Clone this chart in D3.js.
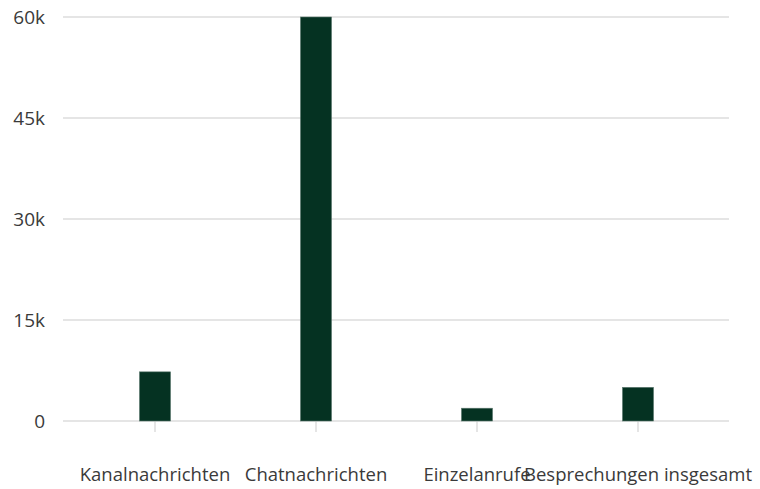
<!DOCTYPE html>
<html>
<head>
<meta charset="utf-8">
<script src="https://cdn.jsdelivr.net/npm/d3@7"></script>
<style>
  html, body { margin: 0; padding: 0; background: #fff; }
  svg { display: block; }
  text { font-family: "Open Sans", "Noto Sans", sans-serif; fill: #3a3a3a; }
</style>
</head>
<body>
<svg id="chart" width="760" height="489"></svg>
<script>
const categories = ["Kanalnachrichten", "Chatnachrichten", "Einzelanrufe", "Besprechungen insgesamt"];
const values = [7300, 60000, 1900, 5000];
const yTicks = [0, 15000, 30000, 45000, 60000];

const svg = d3.select("#chart");
const gridLeft = 63, gridRight = 729;

const y = d3.scaleLinear().domain([0, 60000]).range([421, 17]);
const x = d3.scaleBand().domain(categories)
  .range([74.5, 718.5]).paddingInner(0.807).paddingOuter(0.4035);

const fmt = v => v === 0 ? "0" : (v / 1000) + "k";

// gridlines
svg.append("g").selectAll("line").data(yTicks).join("line")
  .attr("x1", gridLeft).attr("x2", gridRight)
  .attr("y1", d => y(d)).attr("y2", d => y(d))
  .attr("stroke", "#dcdcdc").attr("stroke-width", 1.5);

// y labels
svg.append("g").selectAll("text").data(yTicks).join("text")
  .attr("x", 45).attr("y", d => y(d))
  .attr("text-anchor", "end").attr("dominant-baseline", "central")
  .attr("font-size", 19)
  .text(fmt);

// x axis ticks
svg.append("g").selectAll("line").data(categories).join("line")
  .attr("x1", d => x(d) + x.bandwidth() / 2).attr("x2", d => x(d) + x.bandwidth() / 2)
  .attr("y1", y(0)).attr("y2", y(0) + 11)
  .attr("stroke", "#dcdcdc").attr("stroke-width", 1.5);

// bars
svg.append("g").selectAll("rect").data(values).join("rect")
  .attr("x", (d, i) => x(categories[i]))
  .attr("width", x.bandwidth())
  .attr("y", d => y(d))
  .attr("height", d => y(0) - y(d))
  .attr("fill", "#053222")
  .attr("stroke", "#5d7a6f").attr("stroke-width", 0.6);

// x labels
svg.append("g").selectAll("text").data(categories).join("text")
  .attr("x", d => x(d) + x.bandwidth() / 2)
  .attr("y", 473)
  .attr("text-anchor", "middle").attr("dominant-baseline", "central")
  .attr("font-size", 18.5)
  .text(d => d);
</script>
</body>
</html>
